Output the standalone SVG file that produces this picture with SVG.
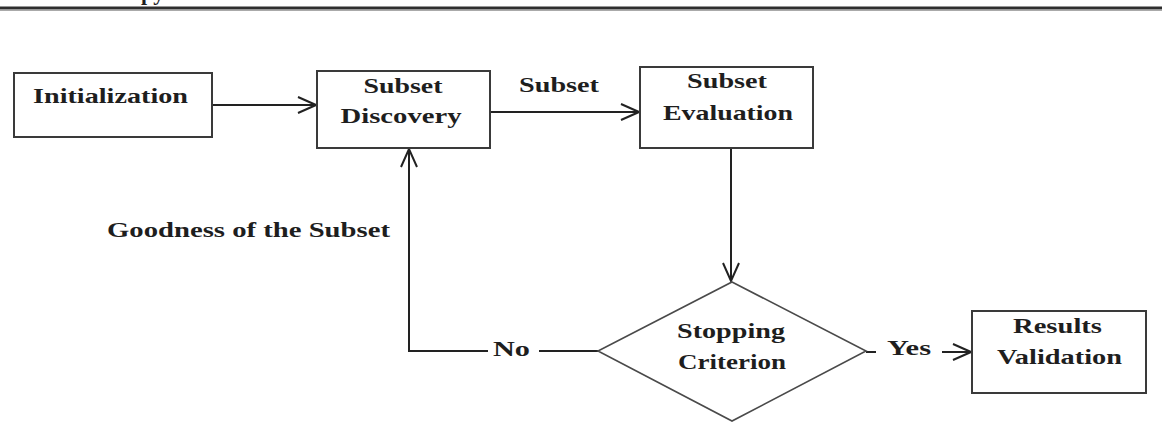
<svg xmlns="http://www.w3.org/2000/svg" width="1162" height="424" viewBox="0 0 1162 424">
<style>
.box{fill:#fff;stroke:#3a3a3a;stroke-width:2}
.dia{fill:#fff;stroke:#4a4a4a;stroke-width:1.6}
.t{font-family:"Liberation Serif","Times New Roman",serif;font-weight:bold;font-size:21px;fill:#1e1e1e;text-anchor:middle}
.c{fill:none;stroke:#222;stroke-width:2}
</style>
<defs>
<marker id="arr" viewBox="0 0 20 18" refX="19" refY="9" markerWidth="20" markerHeight="18" markerUnits="userSpaceOnUse" orient="auto">
<path d="M1,1 L19,9 L1,17" fill="none" stroke="#222" stroke-width="2"/>
</marker>
</defs>
<rect width="1162" height="424" fill="#fff"/>
<g id="header">
<text x="141" y="-0.5" class="t" style="text-anchor:start;font-size:22px">py</text>
<line x1="0" y1="8" x2="1162" y2="8" stroke="#2e2e2e" stroke-width="3"/>
<line x1="0" y1="10.5" x2="1162" y2="10.5" stroke="#aaa" stroke-width="1"/>
</g>
<g id="connectors">
<path class="c" d="M212,105 L316,105" marker-end="url(#arr)"/>
<path class="c" d="M490,112 L639,112" marker-end="url(#arr)"/>
<text class="t" x="559" y="92" textLength="80" lengthAdjust="spacingAndGlyphs">Subset</text>
<path class="c" d="M731,148 L731,281" marker-end="url(#arr)"/>
<path class="c" d="M866,352 L876,352"/>
<text class="t" x="909" y="355" textLength="44" lengthAdjust="spacingAndGlyphs">Yes</text>
<path class="c" d="M942,352 L971,352" marker-end="url(#arr)"/>
<path class="c" d="M598,351 L539,351"/>
<text class="t" x="511.5" y="356" textLength="37" lengthAdjust="spacingAndGlyphs">No</text>
<path class="c" d="M488,351 L409,351 L409,149" marker-end="url(#arr)"/>
<text class="t" x="248.5" y="237" textLength="283" lengthAdjust="spacingAndGlyphs">Goodness of the Subset</text>
</g>
<g id="initialization">
<rect class="box" x="14" y="73" width="198" height="64"/>
<text class="t" x="110.5" y="103" textLength="155" lengthAdjust="spacingAndGlyphs">Initialization</text>
</g>
<g id="subset-discovery">
<rect class="box" x="317" y="71" width="173" height="77"/>
<text class="t" x="403" y="93" textLength="79" lengthAdjust="spacingAndGlyphs">Subset</text>
<text class="t" x="401" y="123" textLength="121" lengthAdjust="spacingAndGlyphs">Discovery</text>
</g>
<g id="subset-evaluation">
<rect class="box" x="640" y="67" width="173" height="81"/>
<text class="t" x="727" y="88" textLength="80" lengthAdjust="spacingAndGlyphs">Subset</text>
<text class="t" x="728" y="120" textLength="130" lengthAdjust="spacingAndGlyphs">Evaluation</text>
</g>
<g id="stopping-criterion">
<polygon class="dia" points="732,282 866,351 732,421 598,351"/>
<text class="t" x="731" y="338" textLength="108" lengthAdjust="spacingAndGlyphs">Stopping</text>
<text class="t" x="732" y="369" textLength="108" lengthAdjust="spacingAndGlyphs">Criterion</text>
</g>
<g id="results-validation">
<rect class="box" x="972" y="311" width="174" height="82"/>
<text class="t" x="1057.5" y="333" textLength="89" lengthAdjust="spacingAndGlyphs">Results</text>
<text class="t" x="1059.5" y="364" textLength="125" lengthAdjust="spacingAndGlyphs">Validation</text>
</g>
</svg>
